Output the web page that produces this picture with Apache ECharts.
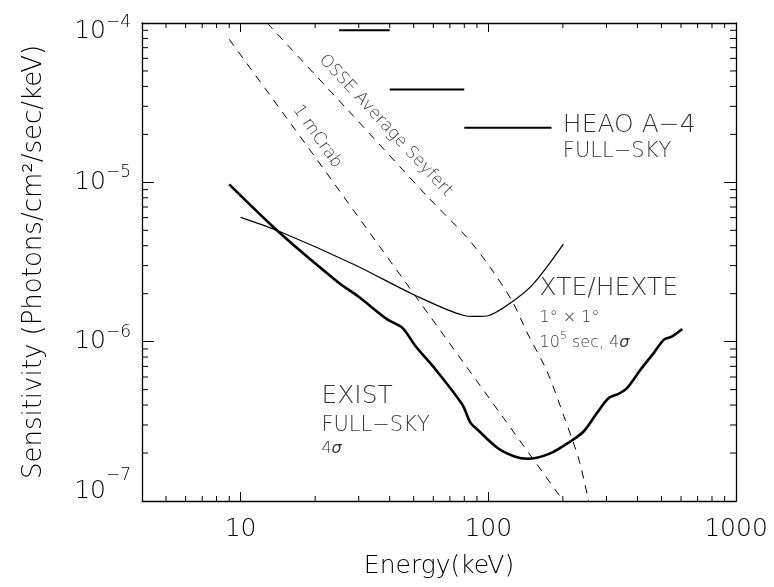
<!DOCTYPE html>
<html><head><meta charset="utf-8">
<script src="https://cdn.jsdelivr.net/npm/echarts@6/dist/echarts.min.js"></script>
<style>html,body{margin:0;padding:0;background:#fff}#c{width:774px;height:587px}</style>
</head><body><div id="c"></div>
<script>
// ---- data (Energy keV, Sensitivity photons/cm2/sec/keV) ----
const existE = [9, 14.3, 24.6, 29.9, 39.1, 45.0, 50.9, 61.3, 78.5, 84.8, 90.3, 108.7, 126.9, 144, 178, 215, 243, 275, 307, 337, 364, 412, 466, 512, 553, 607];
const existS = [9.7e-6, 4.86e-6, 2.38e-6, 1.92e-6, 1.38e-6, 1.22e-6, 9.36e-7, 6.68e-7, 4.03e-7, 3.09e-7, 2.81e-7, 2.16e-7, 1.91e-7, 1.84e-7, 1.99e-7, 2.37e-7, 2.74e-7, 3.58e-7, 4.44e-7, 4.72e-7, 5.13e-7, 6.68e-7, 8.51e-7, 1.03e-6, 1.08e-6, 1.20e-6];

const hexteE = [10, 14.3, 28.7, 50.1, 79.7, 89.7, 100.6, 123, 151, 201];
const hexteS = [6.03e-6, 4.93e-6, 3.05e-6, 1.97e-6, 1.46e-6, 1.44e-6, 1.46e-6, 1.75e-6, 2.28e-6, 4.10e-6];

const osseE = [12.8, 27.0, 56.7, 82.3, 102.2, 125.0, 143.7, 173.1, 202, 232.2, 254.1];
const osseS = [1.0e-4, 2.86e-5, 8.17e-6, 4.48e-6, 2.90e-6, 1.79e-6, 1.135e-6, 6.45e-7, 3.40e-7, 1.82e-7, 1.0e-7];

const crabE = [9, 20, 50, 100, 201];
const crabS = [7.9e-5, 1.44e-5, 2.0e-6, 4.5e-7, 1.0e-7];

const heaoLo = [25, 40, 80];
const heaoHi = [40, 80, 180];
const heaoS  = [9.0e-5, 3.82e-5, 2.2e-5];

// tick values
const xRange = [4, 1000];
const yRange = [1e-7, 1e-4];
const xMinor = [5, 6, 7, 8, 9, 20, 30, 40, 50, 60, 70, 80, 90, 200, 300, 400, 500, 600, 700, 800, 900];
const yMinor = [2e-7, 3e-7, 4e-7, 5e-7, 6e-7, 7e-7, 8e-7, 9e-7, 2e-6, 3e-6, 4e-6, 5e-6, 6e-6, 7e-6, 8e-6, 9e-6, 2e-5, 3e-5, 4e-5, 5e-5, 6e-5, 7e-5, 8e-5, 9e-5];

// ---- annotations ----
const annotE = [200, 200, 161, 161, 161, 21.2, 21.2, 21.2, 38.5, 20.4];
const annotS = [2.27e-5, 1.55e-5, 2.15e-6, 1.42e-6, 9.83e-7, 4.54e-7, 2.99e-7, 2.13e-7, 2.27e-5, 1.94e-5];
const annotText = ['{big|HEAO A−4}', '{med|FULL−SKY}', '{big|XTE/HEXTE}', '{small|1° × 1°}',
  '{small|10}{sup|5}{small| sec, 4}{it|σ}', '{big|EXIST}', '{med|FULL−SKY}', '{small|4}{it|σ}',
  '{rot|OSSE Average Seyfert}', '{rot|1 mCrab}'];
const annotRotate = [0, 0, 0, 0, 0, 0, 0, 0, -47, -55];

const FONT = 'DejaVu Sans';
const FW = 200;
const TXT = '#000';
const zip = (a, b) => a.map((v, i) => [v, b[i]]);

const rs = (size, extra) => Object.assign({fontFamily: FONT, fontWeight: FW, color: TXT, fontSize: size, lineHeight: size}, extra || {});
const annRich = {
  big: rs(25), med: rs(21), small: rs(16),
  it: rs(16, {fontStyle: 'italic'}),
  sup: rs(11, {padding: [0, 0, 14, 0]}),
  rot: rs(17)
};

const chart = echarts.init(document.getElementById('c'), null, {renderer: 'canvas'});

const axisLineStyle = {color: '#000', width: 1.3};
const xAxisBase = {type: 'log', logBase: 10, min: xRange[0], max: xRange[1],
  axisLine: {show: true, lineStyle: axisLineStyle},
  axisTick: {show: true, inside: true, length: 9, lineStyle: {color: '#000', width: 1}},
  splitLine: {show: false}, minorTick: {show: false}};
const yAxisBase = {type: 'log', logBase: 10, min: yRange[0], max: yRange[1],
  axisLine: {show: true, lineStyle: axisLineStyle},
  axisTick: {show: true, inside: true, length: 12, lineStyle: {color: '#000', width: 1}},
  splitLine: {show: false}, minorTick: {show: false}};

const series = [
  {name: 'EXIST', type: 'line', data: zip(existE, existS), symbol: 'none', smooth: 0.3,
   lineStyle: {color: '#000', width: 2.6}, z: 5},
  {name: 'XTE/HEXTE', type: 'line', data: zip(hexteE, hexteS), symbol: 'none', smooth: 0.3,
   lineStyle: {color: '#000', width: 1.2}},
  {name: 'OSSE Average Seyfert', type: 'line', data: zip(osseE, osseS), symbol: 'none', smooth: 0.3,
   lineStyle: {color: '#000', width: 1, type: [8, 7]}},
  {name: '1 mCrab', type: 'line', data: zip(crabE, crabS), symbol: 'none',
   lineStyle: {color: '#000', width: 1, type: [8, 7]}},
];
heaoS.forEach((s, i) => {
  series.push({name: 'HEAO A-4 ' + i, type: 'line', data: [[heaoLo[i], s], [heaoHi[i], s]], symbol: 'none',
    lineStyle: {color: '#000', width: 2}});
});
// minor ticks (log decades) on all four sides
series.push({type: 'custom', silent: true, clip: false, data: xMinor.map(v => [v, yRange[0]]),
  renderItem: (p, api) => {
    const v = api.value(0);
    const b = api.coord([v, yRange[0]]), t = api.coord([v, yRange[1]]);
    return {type: 'group', children: [
      {type: 'line', shape: {x1: b[0], y1: b[1], x2: b[0], y2: b[1] - 5}, style: {stroke: '#000', lineWidth: 1}},
      {type: 'line', shape: {x1: t[0], y1: t[1], x2: t[0], y2: t[1] + 5}, style: {stroke: '#000', lineWidth: 1}}
    ]};
  }});
series.push({type: 'custom', silent: true, clip: false, data: yMinor.map(v => [xRange[0], v]),
  renderItem: (p, api) => {
    const v = api.value(1);
    const l = api.coord([xRange[0], v]), r = api.coord([xRange[1], v]);
    return {type: 'group', children: [
      {type: 'line', shape: {x1: l[0], y1: l[1], x2: l[0] + 6, y2: l[1]}, style: {stroke: '#000', lineWidth: 1}},
      {type: 'line', shape: {x1: r[0], y1: r[1], x2: r[0] - 6, y2: r[1]}, style: {stroke: '#000', lineWidth: 1}}
    ]};
  }});
// annotations
series.push({type: 'scatter', silent: true, symbolSize: 0, z: 10,
  data: annotE.map((e, i) => ({
    value: [e, annotS[i]],
    label: annotRotate[i] === 0
      ? {show: true, position: 'right', distance: 0, formatter: annotText[i], rich: annRich}
      : {show: true, position: 'inside', rotate: annotRotate[i], align: 'center', verticalAlign: 'middle', formatter: annotText[i], rich: annRich}
  }))});

const yRich = {
  bM: rs(25), sM: rs(17, {padding: [0, 0, 19, 0]}),
  bT: rs(25, {padding: [17, 0, 0, 0]}), sT: rs(17),
  bB: rs(25, {padding: [0, 0, 19, 0]}), sB: rs(17, {padding: [0, 0, 51, 0]})
};

chart.setOption({
  animation: false,
  backgroundColor: '#fff',
  grid: {left: 142, right: 38, top: 23, bottom: 86},
  xAxis: [
    Object.assign({}, xAxisBase, {position: 'bottom', name: 'Energy(keV)', nameLocation: 'middle', nameGap: 53,
      nameTextStyle: {fontFamily: FONT, fontWeight: FW, fontSize: 25, color: TXT},
      axisLabel: {show: true, showMinLabel: false, margin: 16, fontFamily: FONT, fontWeight: FW, fontSize: 25, color: TXT,
        formatter: v => String(Math.round(v))}}),
    Object.assign({}, xAxisBase, {position: 'top', axisLabel: {show: false}})
  ],
  yAxis: [
    Object.assign({}, yAxisBase, {position: 'left', name: 'Sensitivity (Photons/cm²/sec/keV)', nameLocation: 'middle', nameGap: 95,
      nameTextStyle: {fontFamily: FONT, fontWeight: FW, fontSize: 26, color: TXT},
      axisLabel: {show: true, margin: 11, rich: yRich,
        formatter: v => {
          const e = Math.round(Math.log10(v));
          const k = e === -4 ? 'T' : (e === -7 ? 'B' : 'M');
          return '{b' + k + '|10}{s' + k + '|−' + (-e) + '}';
        }}}),
    Object.assign({}, yAxisBase, {position: 'right', axisLabel: {show: false}})
  ],
  series: series
});
</script></body></html>
